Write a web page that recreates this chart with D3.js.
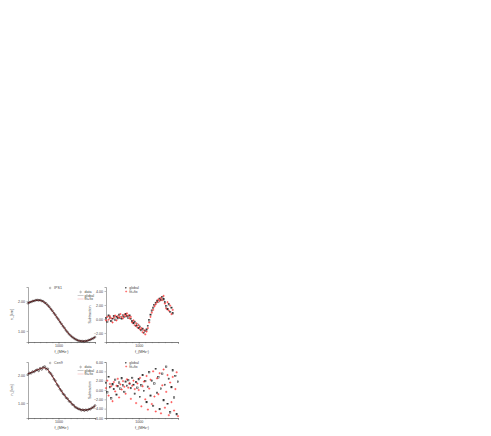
<!DOCTYPE html>
<html>
<head>
<meta charset="utf-8">
<script src="https://cdn.jsdelivr.net/npm/d3@7/dist/d3.min.js"></script>
<style>
  body { margin: 0; background: #fff; }
  svg { display: block; font-family: "Liberation Sans", Arial, sans-serif; }
</style>
</head>
<body>
<svg width="491" height="436"></svg>
<script>
// --- data ---
let fitX = [0, 100, 200, 300, 400, 500, 600, 700, 800, 900, 1000, 1100, 1200, 1300, 1400, 1500, 1600, 1700, 1800, 1900, 2000, 2100, 2200];

// top row (IPS1)
let topGlobal = [1.93, 1.975, 2.01, 2.03, 2.025, 1.985, 1.91, 1.80, 1.67, 1.53, 1.38, 1.23, 1.09, 0.95, 0.84, 0.76, 0.70, 0.665, 0.655, 0.66, 0.69, 0.735, 0.79];
let topFitFix = [1.935, 1.98, 2.012, 2.028, 2.02, 1.98, 1.905, 1.797, 1.668, 1.528, 1.378, 1.23, 1.09, 0.952, 0.842, 0.762, 0.702, 0.667, 0.657, 0.662, 0.692, 0.737, 0.792];

let dataX = [0, 50, 100, 150, 200, 250, 300, 350, 400, 450, 500, 550, 600, 650, 700, 750, 800, 850, 900, 950, 1000, 1050, 1100, 1150, 1200, 1250, 1300, 1350, 1400, 1450, 1500, 1550, 1600, 1650, 1700, 1750, 1800, 1850, 1900, 1950, 2000, 2050, 2100, 2150, 2200];
let topData = [1.925, 1.955, 1.97, 1.995, 2.005, 2.025, 2.035, 2.025, 2.03, 2.005, 1.99, 1.945, 1.915, 1.855, 1.805, 1.735, 1.675, 1.595, 1.535, 1.45, 1.385, 1.30, 1.235, 1.155, 1.095, 1.015, 0.955, 0.89, 0.845, 0.795, 0.765, 0.725, 0.705, 0.675, 0.67, 0.655, 0.66, 0.65, 0.665, 0.67, 0.695, 0.705, 0.74, 0.755, 0.795];

let subX = [0, 40, 80, 120, 160, 200, 240, 280, 320, 360, 400, 440, 480, 520, 560, 600, 640, 680, 720, 760, 800, 840, 880, 920, 960, 1000, 1040, 1080, 1120, 1160, 1200, 1240, 1280, 1320, 1360, 1400, 1440, 1480, 1520, 1560, 1600, 1640, 1680, 1720, 1760, 1800, 1840, 1880, 1920, 1960, 2000, 2040];
let topSubGlobal = [0.1, -0.4, 0.5, 0.2, -0.3, 0.0, 0.4, -0.1, 0.3, 0.1, 0.6, 0.2, 0.0, 0.5, 0.3, 0.7, 0.4, 0.2, 0.5, 0.0, -0.3, -0.6, -0.4, -1.0, -0.8, -1.3, -1.1, -1.6, -1.4, -2.0, -1.7, -1.5, -1.0, -0.2, 0.6, 1.2, 1.6, 2.0, 2.3, 2.6, 2.5, 2.9, 2.7, 3.1, 2.8, 2.4, 1.8, 1.4, 2.1, 1.0, 1.6, 0.8];
let topSubFitFix = [-0.2, 0.3, -0.1, 0.4, 0.1, -0.5, 0.2, 0.5, -0.2, 0.4, 0.2, 0.7, 0.3, 0.1, 0.6, 0.4, 0.8, 0.5, 0.1, 0.3, -0.5, -0.2, -0.9, -0.6, -1.2, -0.9, -1.5, -1.3, -1.9, -1.6, -2.2, -1.8, -1.3, -0.5, 0.3, 0.9, 1.3, 1.8, 2.1, 2.4, 2.8, 2.6, 3.0, 2.7, 3.3, 2.2, 1.5, 2.4, 1.2, 1.9, 0.7, 1.3];

// bottom row (Cen9)
let botGlobal = [2.04, 2.08, 2.13, 2.18, 2.22, 2.26, 2.24, 2.12, 1.96, 1.77, 1.59, 1.42, 1.27, 1.14, 1.02, 0.91, 0.82, 0.77, 0.75, 0.75, 0.77, 0.82, 0.90];
let botFitFix = [2.045, 2.085, 2.133, 2.182, 2.225, 2.255, 2.235, 2.115, 1.955, 1.768, 1.588, 1.42, 1.272, 1.142, 1.022, 0.912, 0.824, 0.772, 0.752, 0.752, 0.772, 0.822, 0.902];
let botData = [2.02, 2.07, 2.06, 2.12, 2.11, 2.16, 2.19, 2.15, 2.24, 2.20, 2.28, 2.30, 2.21, 2.22, 2.10, 2.05, 1.97, 1.85, 1.79, 1.66, 1.60, 1.49, 1.43, 1.33, 1.28, 1.19, 1.15, 1.06, 1.03, 0.95, 0.92, 0.85, 0.83, 0.79, 0.78, 0.74, 0.76, 0.73, 0.76, 0.74, 0.78, 0.78, 0.83, 0.85, 0.91];

let botSubX = [0, 40, 80, 120, 160, 200, 240, 280, 320, 360, 400, 440, 480, 520, 560, 600, 640, 680, 720, 760, 800, 840, 880, 920, 960, 1000, 1040, 1080, 1120, 1160, 1200, 1240, 1280, 1320, 1360, 1400, 1440, 1480, 1520, 1560, 1600, 1640, 1680, 1720, 1760, 1800, 1840, 1880, 1920, 1960, 2000, 2040, 2080, 2120, 2160, 2200];
let botSubGlobal = [1.5, -0.5, 2.8, 0.6, -1.8, 1.2, 0.2, 2.2, -1.0, 0.8, 1.6, 0.3, 2.5, 1.0, -0.4, 1.8, 0.9, 2.1, 1.3, 0.4, 2.6, 1.1, -0.8, 1.7, 0.5, 2.3, -1.5, 1.0, 3.2, -0.2, 1.9, -2.6, 0.7, 3.8, -1.2, 2.0, -3.4, 1.4, 4.5, -0.6, 2.7, -4.1, 0.3, 3.5, -2.2, 1.1, 5.0, -3.0, 2.4, -4.8, 0.6, 4.2, -1.6, 3.0, -5.2, 1.8];
let botSubFitFix = [0.4, 2.0, -1.2, 1.3, 0.8, -2.4, 1.7, -0.3, 0.9, 2.4, -1.6, 1.2, 0.1, 1.9, 0.7, -0.8, 2.3, 0.5, 1.5, -1.9, 0.9, 2.0, 0.2, -2.8, 1.4, 0.0, 2.6, -3.5, 0.8, 1.8, -2.0, 3.0, -4.2, 0.3, 2.2, -3.0, 4.0, -1.4, -4.6, 2.5, -0.9, 3.6, -5.0, 1.0, 4.4, -3.8, -0.4, 3.2, -5.4, 1.6, -2.6, 2.8, -4.4, 0.2, 3.8, -5.6];

let xTickLabels = [1000];
let xMinorTicks = [200, 400, 600, 800, 1000, 1200, 1400, 1600, 1800, 2000, 2200];
let leftYTicks = [1, 2];
let topSubTicks = [-2, 0, 2, 4];
let botSubTicks = [-6, -4, -2, 0, 2, 4, 6];

let xLabel = "f_(MHz²)";
let leftYLabel = "n_[km]";
let rightYLabel = "Subtraction";

// --- drawing ---
let svg = d3.select("svg");
let fs = 3.6;

function drawAxes(g, x, y, yTicks, yFmt) {
    let h = y.range()[0];
    let minor = g.append("g").attr("transform", "translate(0," + h + ")")
        .call(d3.axisBottom(x).tickValues(xMinorTicks).tickSize(1.2).tickFormat(""));
    let major = g.append("g").attr("transform", "translate(0," + h + ")")
        .call(d3.axisBottom(x).tickValues(xTickLabels).tickSize(1.8).tickPadding(0.6).tickFormat(d3.format("d")));
    let left = g.append("g")
        .call(d3.axisLeft(y).tickValues(yTicks).tickSize(1.5).tickPadding(1.5).tickFormat(d3.format(yFmt)));
    [minor, major, left].forEach(function (a) {
        a.attr("font-size", fs).attr("font-family", null);
        a.selectAll("path").attr("stroke", "#555").attr("stroke-width", 0.5);
        a.selectAll("line").attr("stroke", "#555").attr("stroke-width", 0.4);
        a.selectAll("text").attr("fill", "#444");
    });
}

function leftPanel(ox, oy, w, h, yDomain, gl, ff, data, name) {
    let g = svg.append("g").attr("transform", "translate(" + ox + "," + oy + ")");
    let x = d3.scaleLinear().domain([0, 2200]).range([0, w]);
    let y = d3.scaleLinear().domain(yDomain).range([h, 0]);
    drawAxes(g, x, y, leftYTicks, ".2f");

    let line = function (vals) {
        return d3.line()
            .x(function (d, i) { return x(fitX[i]); })
            .y(function (d) { return y(d); })
            .curve(d3.curveMonotoneX)(vals);
    };
    g.append("path").attr("d", line(gl)).style("fill", "none").style("stroke", "#222").style("stroke-width", 0.7);
    g.append("path").attr("d", line(ff)).style("fill", "none").style("stroke", "#d7191c").style("stroke-width", 0.6);

    g.selectAll("circle.data")
        .data(data)
        .enter()
        .append("circle")
        .attr("cx", function (d, i) { return x(dataX[i]); })
        .attr("cy", function (d) { return y(d); })
        .attr("r", 0.9)
        .style("fill", "none")
        .style("stroke", "#2a1a1a")
        .style("stroke-width", 0.55);

    // name legend
    g.append("circle").attr("cx", w * 0.33).attr("cy", 1).attr("r", 0.8)
        .style("fill", "none").style("stroke", "#555").style("stroke-width", 0.4);
    g.append("text").attr("x", w * 0.33 + 4).attr("y", 2.2).attr("font-size", fs).attr("fill", "#444").text(name);

    // series legend
    let lx = w * 0.77, ly = 5;
    g.append("circle").attr("cx", lx + 1).attr("cy", ly).attr("r", 0.8)
        .style("fill", "none").style("stroke", "#555").style("stroke-width", 0.4);
    g.append("text").attr("x", lx + 5).attr("y", ly + 1.2).attr("font-size", fs).attr("fill", "#444").text("data");
    g.append("line").attr("x1", lx - 2).attr("x2", lx + 4).attr("y1", ly + 3.5).attr("y2", ly + 3.5)
        .style("stroke", "#999").style("stroke-width", 0.5);
    g.append("text").attr("x", lx + 5).attr("y", ly + 4.7).attr("font-size", fs).attr("fill", "#444").text("global");
    g.append("line").attr("x1", lx - 2).attr("x2", lx + 4).attr("y1", ly + 7).attr("y2", ly + 7)
        .style("stroke", "#f4a0a0").style("stroke-width", 0.5);
    g.append("text").attr("x", lx + 5).attr("y", ly + 8.2).attr("font-size", fs).attr("fill", "#444").text("fit+fix");

    g.append("text").attr("x", w / 2).attr("y", h + 10.5).attr("text-anchor", "middle")
        .attr("font-size", fs).attr("fill", "#444").text(xLabel);
    g.append("text").attr("transform", "translate(-15," + (h / 2) + ") rotate(-90)")
        .attr("text-anchor", "middle").attr("font-size", fs).attr("fill", "#444").text(leftYLabel);
}

function rightPanel(ox, oy, w, h, yDomain, yTicks, sx, gl, ff) {
    let g = svg.append("g").attr("transform", "translate(" + ox + "," + oy + ")");
    let x = d3.scaleLinear().domain([0, 2200]).range([0, w]);
    let y = d3.scaleLinear().domain(yDomain).range([h, 0]);
    drawAxes(g, x, y, yTicks, ".2f");

    g.selectAll("rect.glob")
        .data(gl)
        .enter()
        .append("rect")
        .attr("x", function (d, i) { return x(sx[i]) - 0.7; })
        .attr("y", function (d) { return y(d) - 0.7; })
        .attr("width", 1.4)
        .attr("height", 1.4)
        .style("fill", "none")
        .style("stroke", "#222")
        .style("stroke-width", 0.5);

    g.selectAll("path.fix")
        .data(ff)
        .enter()
        .append("path")
        .attr("d", function (d, i) {
            let cx = x(sx[i]), cy = y(d);
            return "M" + (cx - 1.1) + "," + cy + "h2.2M" + cx + "," + (cy - 1.1) + "v2.2";
        })
        .style("stroke", "#ff1a1a")
        .style("stroke-width", 0.55);

    // legend
    let lx = w * 0.28, ly = 1;
    g.append("rect").attr("x", lx - 0.6).attr("y", ly - 0.6).attr("width", 1.2).attr("height", 1.2)
        .style("fill", "none").style("stroke", "#333").style("stroke-width", 0.4);
    g.append("text").attr("x", lx + 3).attr("y", ly + 1.2).attr("font-size", fs).attr("fill", "#444").text("global");
    g.append("path").attr("d", "M" + (lx - 1) + "," + (ly + 3.5) + "h2M" + lx + "," + (ly + 2.5) + "v2")
        .style("stroke", "#ff1a1a").style("stroke-width", 0.45);
    g.append("text").attr("x", lx + 3).attr("y", ly + 4.7).attr("font-size", fs).attr("fill", "#444").text("fit+fix");

    g.append("text").attr("x", w / 2).attr("y", h + 10.5).attr("text-anchor", "middle")
        .attr("font-size", fs).attr("fill", "#444").text(xLabel);
    g.append("text").attr("transform", "translate(-15," + (h / 2) + ") rotate(-90)")
        .attr("text-anchor", "middle").attr("font-size", fs).attr("fill", "#444").text(rightYLabel);
}

leftPanel(28, 287, 67, 55, [0.63, 2.47], topGlobal, topFitFix, topData, "IPS1");
rightPanel(106, 287, 72, 55, [-3.29, 4.57], topSubTicks, subX, topSubGlobal, topSubFitFix);
leftPanel(28, 362, 67, 56, [0.464, 2.464], botGlobal, botFitFix, botData, "Cen9");
rightPanel(106, 362, 72, 56, [-6, 6], botSubTicks, botSubX, botSubGlobal, botSubFitFix);
</script>
</body>
</html>
